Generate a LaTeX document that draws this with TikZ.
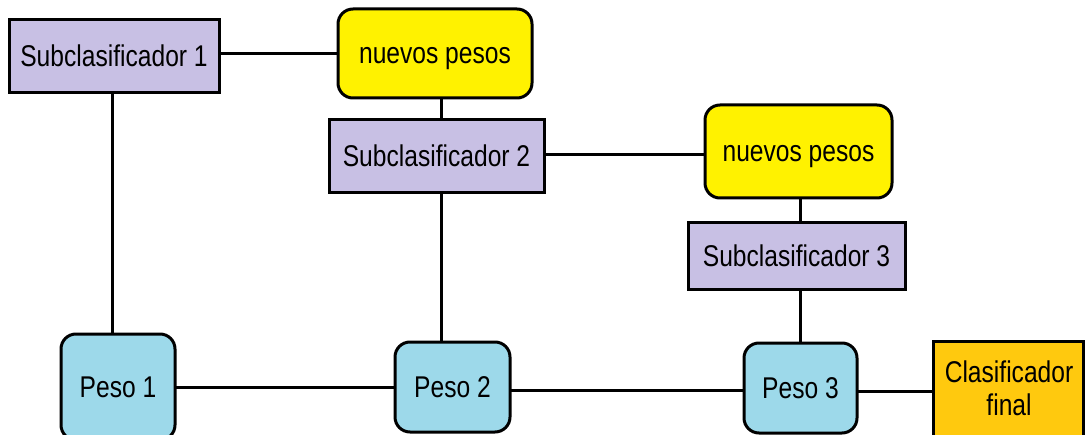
\documentclass[tikz,border=0pt]{standalone}
\usepackage{fontspec}
\setmainfont[FakeStretch=0.82]{Liberation Sans}
\definecolor{lav}{RGB}{200,192,228}
\definecolor{yel}{RGB}{255,242,0}
\definecolor{lblue}{RGB}{157,217,234}
\definecolor{orng}{RGB}{255,201,14}
\begin{document}
\begin{tikzpicture}[x=1pt,y=-1pt,
  every node/.style={inner sep=0pt, outer sep=0pt, font=\fontsize{30}{34}\selectfont, align=center},
  oneline/.style={text height=21pt, text depth=0pt},
  sqbox/.style={draw=black, line width=3pt, fill=lav, oneline},
  rbox/.style={draw=black, line width=3pt, rounded corners=15pt, oneline},
  conn/.style={draw=black, line width=3pt}]
\useasboundingbox (0,0) rectangle (1086,435);
\clip (0,0) rectangle (1086,435);
% nodes
\node[sqbox, minimum width=210, minimum height=73] (s1) at (114,56.5) {Subclasificador 1};
\node[rbox, fill=yel, minimum width=194, minimum height=89] (n1) at (435,53.5) {nuevos pesos};
\node[sqbox, minimum width=215, minimum height=73] (s2) at (436.5,156.5) {Subclasificador 2};
\node[rbox, fill=yel, minimum width=187, minimum height=93] (n2) at (798.5,151.5) {nuevos pesos};
\node[sqbox, minimum width=217, minimum height=67] (s3) at (796.5,256) {Subclasificador 3};
\node[rbox, fill=lblue, minimum width=114, minimum height=106] (p1) at (118,387) {Peso 1};
\node[rbox, fill=lblue, minimum width=115, minimum height=90] (p2) at (452.5,387) {Peso 2};
\node[rbox, fill=lblue, minimum width=113, minimum height=90] (p3) at (800.5,388) {Peso 3};
\node[draw=black, line width=3pt, fill=orng, minimum width=150, minimum height=100] (cf) at (1008,391) {};
\node (cft) at (1009,388) {Clasificador\\[-1pt]final};
% connectors
\path[conn] (s1.east |- 0,54) -- (n1.west |- 0,54);
\path[conn] (s1.south -| 112,0) -- (p1.north -| 112,0);
\path[conn] (n1.south -| 441,0) -- (s2.north -| 441,0);
\path[conn] (s2.south -| 441,0) -- (p2.north -| 441,0);
\path[conn] (s2.east |- 0,155) -- (n2.west |- 0,155);
\path[conn] (n2.south -| 800,0) -- (s3.north -| 800,0);
\path[conn] (s3.south -| 800,0) -- (p3.north -| 800,0);
\path[conn] (p1.east |- 0,387) -- (p2.west |- 0,387);
\path[conn] (p2.east |- 0,390) -- (p3.west |- 0,390);
\path[conn] (p3.east |- 0,391) -- (cf.west |- 0,391);
\end{tikzpicture}
\end{document}
